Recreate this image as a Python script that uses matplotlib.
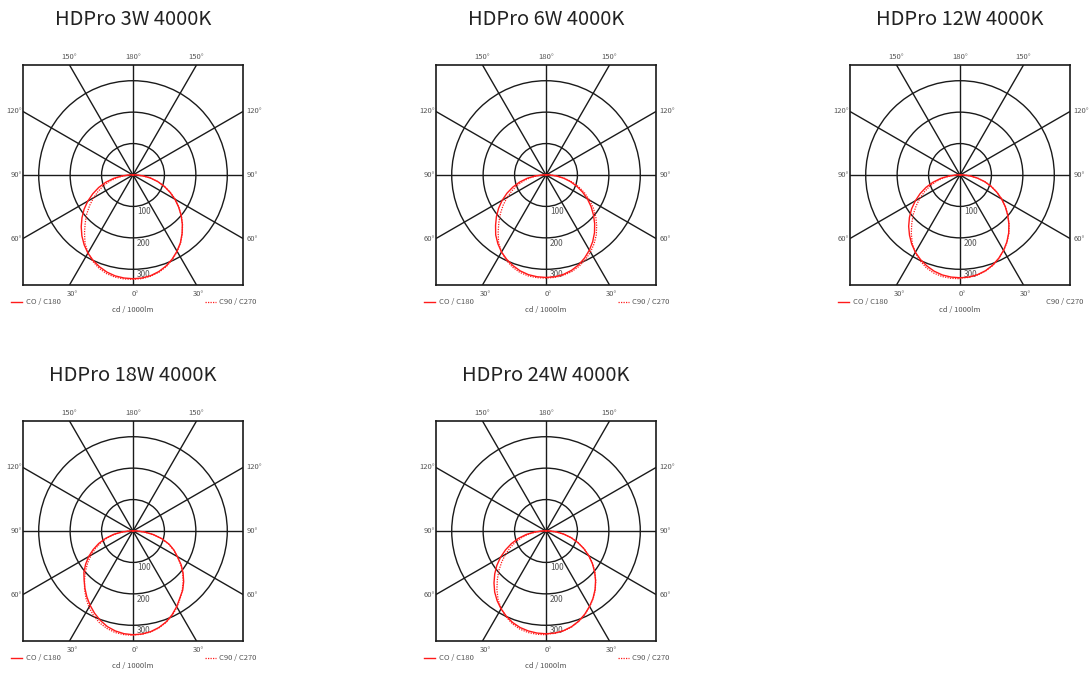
import numpy as np
import matplotlib
matplotlib.use("Agg")
import matplotlib.pyplot as plt
from matplotlib.patches import Circle

plt.rcParams['font.family'] = ['Noto Sans CJK SC', 'DejaVu Sans']

# gamma angles (deg) from nadir, one half of each C-plane pair
gamma = [0, 5, 10, 15, 20, 25, 30, 35, 40, 45, 50, 55, 60, 65, 70, 75, 80, 85, 90, 95, 100]

titles = ["HDPro 3W 4000K", "HDPro 6W 4000K", "HDPro 12W 4000K",
          "HDPro 18W 4000K", "HDPro 24W 4000K"]

# intensities, cd / 1000lm
hd3_c0 = [330, 329, 325, 318, 308, 295, 280, 263, 243, 222, 200, 177, 154, 130, 106, 82, 57, 33, 12, 6, 0]
hd3_c180 = [330, 329, 326, 320, 311, 300, 287, 271, 253, 233, 212, 190, 166, 141, 116, 90, 63, 36, 14, 7, 0]
hd3_c90 = [332, 331, 327, 320, 310, 297, 281, 264, 244, 223, 201, 178, 155, 131, 107, 82, 57, 32, 11, 5, 0]
hd3_c270 = [332, 332, 330, 325, 316, 303, 286, 266, 240, 215, 192, 168, 145, 122, 100, 77, 53, 30, 10, 5, 0]

hd6_c0 = [326, 325, 321, 314, 304, 291, 276, 259, 240, 219, 197, 175, 152, 128, 104, 80, 56, 32, 12, 6, 0]
hd6_c180 = [326, 325, 322, 316, 307, 296, 283, 267, 249, 227, 206, 184, 161, 137, 112, 87, 61, 35, 13, 6, 0]
hd6_c90 = [328, 327, 324, 318, 309, 297, 283, 267, 249, 228, 207, 184, 160, 136, 111, 86, 60, 34, 12, 6, 0]
hd6_c270 = [328, 328, 326, 321, 312, 299, 283, 263, 237, 212, 189, 166, 143, 120, 98, 75, 52, 29, 10, 5, 0]

hd12_c0 = [327, 326, 322, 315, 305, 292, 277, 260, 241, 220, 198, 176, 153, 129, 105, 81, 56, 32, 12, 6, 0]
hd12_c180 = [327, 326, 323, 317, 308, 297, 284, 268, 250, 231, 210, 188, 164, 140, 115, 89, 62, 35, 13, 6, 0]
hd12_c90 = [328, 327, 323, 316, 306, 293, 278, 261, 242, 221, 199, 177, 154, 130, 106, 82, 57, 32, 11, 5, 0]
hd12_c270 = [330, 330, 328, 323, 314, 301, 285, 265, 241, 217, 194, 170, 147, 124, 101, 78, 54, 30, 10, 5, 0]

hd18_c0 = [330, 329, 325, 318, 308, 294, 278, 260, 246, 228, 208, 187, 163, 144, 122, 95, 66, 37, 13, 6, 0]
hd18_c180 = [330, 328, 323, 315, 303, 289, 273, 256, 238, 220, 204, 184, 163, 140, 116, 90, 63, 35, 12, 6, 0]
hd18_c90 = [331, 330, 326, 319, 309, 296, 280, 262, 244, 226, 206, 185, 163, 142, 120, 94, 65, 36, 12, 6, 0]
hd18_c270 = [332, 331, 328, 321, 311, 297, 280, 261, 240, 218, 197, 176, 154, 132, 109, 85, 59, 33, 11, 5, 0]

hd24_c0 = [327, 326, 322, 315, 305, 292, 277, 261, 243, 223, 202, 180, 157, 133, 108, 83, 58, 33, 12, 6, 0]
hd24_c180 = [327, 326, 323, 318, 310, 299, 286, 271, 254, 234, 213, 191, 167, 142, 117, 91, 64, 36, 13, 6, 0]
hd24_c90 = [328, 327, 323, 316, 306, 293, 278, 262, 244, 224, 203, 181, 158, 134, 109, 84, 58, 33, 11, 5, 0]
hd24_c270 = [330, 330, 328, 323, 314, 301, 285, 266, 243, 219, 196, 172, 149, 126, 103, 79, 55, 31, 10, 5, 0]

rings = [100, 200, 300]
ring_labels = ["100", "200", "300"]

lamps = [
  (hd3_c0, hd3_c180, hd3_c90, hd3_c270),
  (hd6_c0, hd6_c180, hd6_c90, hd6_c270),
  (hd12_c0, hd12_c180, hd12_c90, hd12_c270),
  (hd18_c0, hd18_c180, hd18_c90, hd18_c270),
  (hd24_c0, hd24_c180, hd24_c90, hd24_c270),
]
# the 12W sheet has no key line next to C90 / C270
dotted_key = [True, True, False, True, True]

RED = "#ff1a1a"
GREY = "#555555"
LIM = 350

# box positions in pixels (left, top), box is 220 px square
W, H = 1089, 673
boxes = [(23, 65), (436, 65), (850, 65), (23, 421), (436, 421)]


def _curve(left, right):
  g = np.radians(gamma)
  left = np.asarray(left, float)
  right = np.asarray(right, float)
  x = np.concatenate([-left[::-1] * np.sin(g[::-1]), right * np.sin(g)])
  y = np.concatenate([-left[::-1] * np.cos(g[::-1]), -right * np.cos(g)])
  return x, y


def _grid(ax):
  for r in rings:
    ax.add_patch(Circle((0, 0), r, fill=False, lw=1.0, color="#1a1a1a"))
  for a in range(0, 360, 30):
    t = np.radians(a)
    ax.plot([0, 1000 * np.sin(t)], [0, -1000 * np.cos(t)], color="#1a1a1a", lw=1.0)
  for r, lab in zip(rings, ring_labels):
    ax.text(12, -r - 17, lab, fontsize=6, color=GREY, ha="left", va="center")


def _labels(ax, show_dotted):
  k = LIM * np.tan(np.radians(30))
  kw = dict(fontsize=5.5, color=GREY, va="center", clip_on=False)
  ax.text(-k, LIM + 25, "150°", ha="center", **kw)
  ax.text(0, LIM + 25, "180°", ha="center", **kw)
  ax.text(k, LIM + 25, "150°", ha="center", **kw)
  for lab, yy in (("120°", k), ("90°", 0), ("60°", -k)):
    ax.text(-LIM - 2, yy, lab, ha="right", **kw)
    ax.text(LIM + 10, yy, lab, ha="left", **kw)
  ax.text(-k + 8, -LIM - 29, "30°", ha="center", **kw)
  ax.text(6, -LIM - 29, "0°", ha="center", **kw)
  ax.text(k + 6, -LIM - 29, "30°", ha="center", **kw)

  ax.plot([-388, -352], [-404, -404], color=RED, lw=1.0, clip_on=False)
  ax.text(-341, -404, "CO / C180", ha="left", **kw)
  if show_dotted:
    ax.plot([230, 265], [-404, -404], color=RED, lw=0.9, ls=(0, (1, 1)), clip_on=False)
  ax.text(274, -404, "C90 / C270", ha="left", **kw)
  ax.text(0, -430, "cd / 1000lm", ha="center", **kw)


fig = plt.figure(figsize=(W / 100, H / 100), dpi=100)

for (bx, by), title, (c0, c180, c90, c270), show_dotted in zip(boxes, titles, lamps, dotted_key):
  ax = fig.add_axes([bx / W, (H - by - 220) / H, 220 / W, 220 / H])
  ax.set_xlim(-LIM, LIM)
  ax.set_ylim(-LIM, LIM)
  ax.set_xticks([])
  ax.set_yticks([])
  for s in ax.spines.values():
    s.set_linewidth(1.2)
    s.set_color("#1a1a1a")

  _grid(ax)

  x, y = _curve(c180, c0)
  ax.plot(x, y, color=RED, lw=1.0, zorder=5)
  x, y = _curve(c270, c90)
  ax.plot(x, y, color=RED, lw=0.9, ls=(0, (1, 1)), zorder=5)

  _labels(ax, show_dotted)
  ax.text(0.5, 1.205, title, transform=ax.transAxes, ha="center", va="center",
          fontsize=14.5, color="#222222", fontweight="light")

fig.savefig("out.png", dpi=100)
